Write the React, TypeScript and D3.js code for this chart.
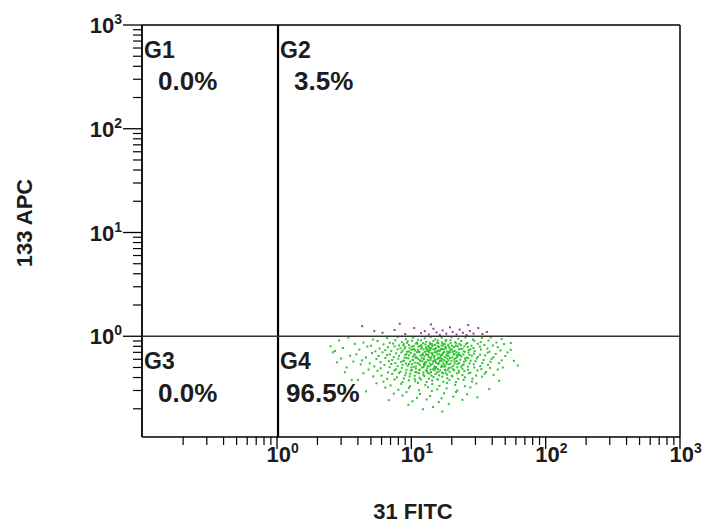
import React from "react";
import * as d3 from "d3";

// ---- data ----
const majorTicks = [1, 10, 100, 1000];
const majorExponents = ["0", "1", "2", "3"];
const minorMultipliers = [2, 3, 4, 5, 6, 7, 8, 9];
const decadeStarts = [0.1, 1, 10, 100];

const gateLabels = ["G1", "G2", "G3", "G4"];
const gatePercents = ["0.0%", "3.5%", "0.0%", "96.5%"];

const xTitle = "31 FITC";
const yTitle = "133 APC";

// G2 events (above the horizontal gate) – purple
const g2Points: [number, number][] = [
  [4.3, 1.25], [5.3, 1.12], [6.1, 1.08], [7.5, 1.15], [8.2, 1.32], [9.0, 1.05], [10.5, 1.2],
  [11.8, 1.07], [12.6, 1.12], [13.5, 1.04], [14.0, 1.3], [14.6, 1.18], [15.4, 1.09], [16.3, 1.03],
  [17.1, 1.14], [18.2, 1.06], [19.4, 1.22], [20.3, 1.1], [21.7, 1.04], [22.9, 1.16], [24.2, 1.08],
  [25.8, 1.03], [26.5, 1.28], [27.3, 1.12], [29.0, 1.06], [31.5, 1.2], [33.8, 1.05], [36.5, 1.1],
];

// G4 events – green
const g4Points: [number, number][] = [
  [3.4, .97], [5.2, .93], [6.6, .96], [7.9, .98], [9.1, .94], [10.3, .97], [11.2, .925], [12.6, .955], [13.9, .98], [15.1, .935],
  [16.8, .965], [18.2, .92], [19.9, .975], [22.4, .945], [25.3, .97], [28.8, .93], [33.5, .96], [39.0, .975], [47, .94],
  [2.9, .91], [4.4, .87], [5.6, .9], [6.9, .865], [7.6, .915], [8.5, .875], [9.4, .895], [10.1, .905], [11.0, .87], [11.8, .915],
  [12.9, .885], [13.7, .865], [14.6, .9], [15.8, .91], [16.9, .87], [18.0, .895], [19.5, .915], [21.2, .875], [23.5, .9],
  [26.1, .86], [29.4, .905], [32.8, .88], [37.5, .91], [43, .87],
  [3.8, .845], [5.0, .81], [6.2, .835], [7.3, .85], [8.1, .815], [8.8, .84], [9.6, .825], [10.4, .805], [11.1, .85], [11.9, .82],
  [12.7, .835], [13.4, .81], [14.2, .845], [15.0, .825], [15.9, .855], [16.8, .815], [17.7, .84], [18.8, .83], [20.1, .81],
  [21.6, .85], [23.4, .82], [25.5, .84], [28.0, .81], [31.2, .845], [35.0, .825], [40.5, .815], [49, .84],
  [3.1, .77], [4.7, .795], [5.8, .76], [6.7, .785], [7.5, .8], [8.3, .765], [9.0, .79], [9.7, .775], [10.5, .755], [11.3, .795],
  [12.0, .78], [12.8, .76], [13.5, .79], [14.3, .8], [15.2, .77], [16.1, .785], [17.0, .755], [18.1, .795], [19.3, .765],
  [20.7, .785], [22.2, .8], [24.0, .76], [26.3, .79], [29.0, .77], [32.4, .795], [36.8, .76], [44, .785],
  [4.1, .745], [5.4, .715], [6.4, .735], [7.1, .72], [7.9, .748], [8.6, .725], [9.3, .71], [10.0, .74], [10.7, .728], [11.5, .712],
  [12.3, .745], [13.1, .72], [13.8, .735], [14.6, .75], [15.5, .715], [16.4, .73], [17.4, .745], [18.5, .712], [19.7, .738],
  [21.0, .722], [22.6, .748], [24.5, .715], [26.8, .735], [29.6, .72], [33.0, .745], [38.2, .71], [46, .73], [55, .74],
  [2.6, .7], [3.9, .67], [5.1, .69], [6.1, .7], [6.9, .668], [7.7, .685], [8.4, .698], [9.2, .672], [9.9, .69], [10.6, .665],
  [11.4, .703], [12.2, .68], [12.9, .668], [13.6, .695], [14.4, .678], [15.3, .702], [16.2, .67], [17.2, .688], [18.3, .665],
  [19.5, .7], [20.9, .675], [22.5, .692], [24.4, .668], [26.6, .7], [29.3, .68], [32.5, .665], [37.0, .695], [42.5, .675],
  [3.5, .65], [4.6, .625], [5.7, .645], [6.6, .658], [7.4, .63], [8.1, .648], [8.9, .622], [9.6, .655], [10.3, .638], [11.0, .625],
  [11.7, .652], [12.5, .64], [13.3, .66], [14.1, .628], [14.9, .645], [15.8, .622], [16.7, .656], [17.7, .635], [18.9, .648],
  [20.2, .625], [21.8, .658], [23.6, .64], [25.7, .622], [28.2, .65], [31.3, .632], [35.4, .655], [40.8, .628], [50, .645],
  [3.0, .61], [4.3, .585], [5.5, .605], [6.4, .618], [7.2, .59], [8.0, .608], [8.7, .582], [9.5, .612], [10.2, .595], [10.9, .618],
  [11.6, .585], [12.4, .603], [13.2, .592], [13.9, .615], [14.7, .58], [15.6, .6], [16.5, .612], [17.5, .588], [18.6, .606],
  [19.9, .58], [21.4, .614], [23.1, .594], [25.1, .608], [27.6, .582], [30.6, .61], [34.5, .59], [39.5, .605], [47, .585],
  [3.7, .57], [4.9, .548], [5.9, .562], [6.8, .575], [7.6, .55], [8.4, .567], [9.1, .545], [9.8, .572], [10.6, .556], [11.3, .546],
  [12.1, .575], [12.9, .56], [13.7, .548], [14.5, .57], [15.4, .553], [16.3, .577], [17.3, .55], [18.4, .565], [19.6, .545],
  [21.0, .572], [22.7, .555], [24.7, .568], [27.1, .547], [30.0, .575], [33.8, .552], [38.8, .566], [45, .55],
  [4.2, .535], [5.3, .512], [6.3, .528], [7.1, .54], [7.9, .515], [8.6, .532], [9.4, .52], [10.1, .538], [10.8, .51], [11.6, .527],
  [12.4, .54], [13.2, .515], [14.0, .53], [14.9, .512], [15.8, .537], [16.8, .522], [17.9, .51], [19.1, .535], [20.5, .518],
  [22.1, .54], [24.0, .525], [26.3, .51], [29.1, .536], [32.6, .515], [37.2, .53], [62, .522],
  [3.3, .5], [4.8, .478], [5.9, .492], [6.9, .503], [7.7, .48], [8.5, .496], [9.2, .475], [10.0, .5], [10.8, .486], [11.5, .476],
  [12.3, .503], [13.1, .49], [13.9, .478], [14.8, .498], [15.7, .483], [16.7, .505], [17.8, .476], [19.0, .494], [20.4, .48],
  [22.0, .502], [24.0, .486], [26.4, .476], [29.4, .5], [33.2, .482], [38.5, .495], [44, .478],
  [5.6, .465], [6.7, .448], [7.5, .47], [8.3, .455], [9.1, .445], [9.9, .468], [10.7, .452], [11.5, .472], [12.3, .447], [13.1, .462],
  [14.0, .45], [14.9, .47], [15.9, .455], [16.9, .445], [18.0, .467], [19.3, .452], [20.8, .47], [22.6, .448], [24.8, .462],
  [27.5, .446], [31.0, .468], [36.0, .452],
  [4.4, .44], [6.0, .418], [7.2, .433], [8.1, .442], [9.0, .42], [9.8, .436], [10.6, .416], [11.4, .44], [12.3, .425], [13.2, .443],
  [14.1, .418], [15.1, .432], [16.1, .42], [17.2, .44], [18.5, .426], [20.0, .416], [21.8, .438], [24.0, .422], [26.8, .44],
  [30.3, .418], [35.2, .435], [41, .424],
  [5.2, .41], [6.6, .388], [7.8, .402], [8.8, .392], [9.7, .41], [10.6, .386], [11.5, .398], [12.5, .412], [13.5, .39], [14.6, .405],
  [15.7, .386], [17.0, .408], [18.5, .394], [20.2, .41], [22.3, .388], [25.0, .402], [28.5, .39], [33.5, .408],
  [4.0, .38], [6.2, .365], [7.5, .383], [8.6, .362], [9.6, .376], [10.7, .368], [11.8, .384], [13.0, .362], [14.3, .374],
  [15.7, .382], [17.3, .364], [19.2, .378], [21.5, .362], [24.5, .38], [28.3, .366], [45, .372],
  [5.5, .352], [7.0, .336], [8.4, .348], [9.8, .33], [11.2, .355], [12.7, .338], [14.3, .346], [16.2, .332], [18.4, .354],
  [21.2, .34], [25.0, .33], [30.5, .35],
  [6.4, .32], [8.0, .305], [9.6, .318], [11.4, .302], [13.3, .322], [15.6, .308], [18.3, .315], [22.0, .3], [27.5, .322], [38, .31],
  [4.6, .294], [7.4, .28], [9.2, .29], [11.6, .278], [14.2, .296], [17.5, .282], [21.5, .29], [26, .276],
  [8.6, .268], [11.0, .255], [13.8, .266], [16.8, .252], [20.5, .262], [31, .258],
  [6.8, .242], [10.2, .236], [13.0, .246], [16.0, .232], [24, .244],
  [9.5, .218], [14.5, .208], [19, .222],
  [12.2, .198], [17, .188],
  [2.5, .8], [2.8, .56], [3.2, .45], [2.7, .72], [3.6, .38], [52, .7], [58, .58], [48, .5], [55, .86],
  // dense core
  [9.3, .865], [10.8, .848], [12.2, .858], [13.8, .842], [15.5, .866], [17.3, .85], [19.6, .86], [22.8, .845],
  [8.7, .815], [10.1, .798], [11.6, .808], [12.9, .79], [14.4, .818], [15.7, .802], [17.2, .812], [19.0, .795], [21.4, .806], [24.8, .8],
  [8.9, .758], [10.3, .748], [11.8, .762], [13.2, .75], [14.0, .764], [15.0, .745], [16.6, .752], [18.0, .76], [20.0, .748], [23.3, .756], [27.5, .75],
  [9.6, .712], [11.0, .702], [12.6, .708], [13.4, .72], [14.9, .7], [16.0, .716], [17.6, .704], [19.1, .712], [21.6, .7], [25.0, .708],
  [9.0, .662], [10.5, .668], [11.9, .655], [13.0, .672], [14.4, .658], [15.6, .67], [17.0, .662], [18.6, .652], [20.6, .666], [23.0, .658], [27.0, .664],
  [9.2, .618], [10.7, .628], [12.0, .615], [13.5, .63], [14.8, .622], [16.2, .612], [18.0, .626], [19.4, .618], [22.0, .63], [26.5, .616],
  [8.8, .578], [10.3, .588], [11.7, .575], [13.4, .582], [15.0, .59], [16.8, .578], [18.9, .586], [21.8, .576], [25.5, .584],
  [9.6, .538], [11.1, .548], [12.7, .536], [14.4, .542], [16.1, .55], [18.3, .54], [21.0, .546], [24.5, .536],
  [10.4, .508], [12.0, .5], [13.6, .512], [15.3, .504], [17.3, .51], [19.8, .5], [23.5, .508],
  [10.1, .472], [12.8, .468], [14.5, .48], [16.4, .47], [18.7, .476], [22.5, .466],
  [11.0, .448], [13.6, .438], [15.5, .446], [18.0, .44],
  [11.3, .6], [12.6, .56], [13.9, .59], [15.2, .565], [16.9, .605], [18.1, .57], [12.1, .66], [14.2, .69], [16.5, .64],
  [18.8, .69], [11.2, .74], [13.7, .77], [15.9, .73], [17.9, .78], [20.4, .71], [12.4, .52], [15.1, .49], [17.6, .53],
  [20.9, .6], [22.4, .66],
];

// ---- layout ----
const W = 702;
const H = 523;
const plotLeft = 142;
const plotRight = 680;
const plotTop = 25;
const plotBottom = 437;
const FONT = "'Liberation Sans', Arial, Helvetica, sans-serif";
const TEXT = "#1c1c1c";

export default function App() {
  const x = d3.scaleLog().domain([0.1, 1000]).range([142.7, 680]);
  const y = d3.scaleLog().domain([0.1, 1000]).range([440, 25]);

  const minorVals: number[] = [];
  decadeStarts.forEach((d) => minorMultipliers.forEach((m) => minorVals.push(d * m)));
  const xMinor = minorVals.filter((v) => x(v) > plotLeft + 1 && x(v) < plotRight - 1);
  const yMinor = minorVals.filter((v) => y(v) < plotBottom - 1 && y(v) > plotTop + 1);

  const gx = x(1);
  const gy = y(1);

  const gatePos = [
    { lx: plotLeft + 2, ly: 58, px: plotLeft + 16, py: 90 },
    { lx: gx + 3, ly: 58, px: gx + 17, py: 90 },
    { lx: plotLeft + 2, ly: 369, px: plotLeft + 16, py: 402 },
    { lx: gx + 3, ly: 369, px: gx + 9, py: 402 },
  ];

  return (
    <svg
      width={W}
      height={H}
      style={{ position: "absolute", left: 0, top: 0, background: "#fff" }}
      fontFamily={FONT}
    >
      <rect x={0} y={0} width={W} height={H} fill="#fff" />

      {/* dots */}
      <g>
        {g4Points.map(([vx, vy], i) => (
          <rect key={"g" + i} x={x(vx) - 1} y={y(vy) - 1} width={2} height={2} fill="#2fc22f" />
        ))}
        {g2Points.map(([vx, vy], i) => (
          <rect key={"p" + i} x={x(vx) - 1} y={y(vy) - 1} width={2} height={2} fill="#9a3f8c" />
        ))}
      </g>

      {/* frame */}
      <line x1={plotLeft} x2={plotRight} y1={plotTop} y2={plotTop} stroke="#000" strokeWidth={1.5} />
      <line x1={plotRight} x2={plotRight} y1={plotTop} y2={plotBottom} stroke="#000" strokeWidth={1.5} />
      <line x1={plotLeft} x2={plotRight} y1={plotBottom} y2={plotBottom} stroke="#000" strokeWidth={1.5} />
      <line x1={plotLeft} x2={plotLeft} y1={plotTop} y2={plotBottom} stroke="#000" strokeWidth={1.8} />

      {/* gates */}
      <line x1={gx + 1} x2={gx + 1} y1={plotTop} y2={plotBottom} stroke="#000" strokeWidth={2.2} />
      <line x1={plotLeft} x2={plotRight} y1={gy} y2={gy} stroke="#333" strokeWidth={1.4} />

      {/* y ticks */}
      {yMinor.map((v, i) => (
        <line key={"ym" + i} x1={plotLeft - 9} x2={plotLeft} y1={y(v)} y2={y(v)} stroke="#000" strokeWidth={1.2} />
      ))}
      {majorTicks.map((v, i) => (
        <g key={"yM" + i}>
          <line x1={plotLeft - 19} x2={plotLeft} y1={y(v)} y2={y(v)} stroke="#000" strokeWidth={1.3} />
          <text x={plotLeft - 20} y={y(v) + 8} textAnchor="end" fontSize={22} fontWeight="bold" fill={TEXT}>
            10
            <tspan fontSize={14} dy={-9}>{majorExponents[i]}</tspan>
          </text>
        </g>
      ))}

      {/* x ticks */}
      {xMinor.map((v, i) => (
        <line key={"xm" + i} x1={x(v)} x2={x(v)} y1={plotBottom} y2={plotBottom + 8} stroke="#000" strokeWidth={1.2} />
      ))}
      {majorTicks.map((v, i) => (
        <g key={"xM" + i}>
          <line x1={x(v)} x2={x(v)} y1={plotBottom} y2={plotBottom + 12} stroke="#000" strokeWidth={1.3} />
          <text x={x(v) - 10.5} y={462} textAnchor="start" fontSize={22} fontWeight="bold" fill={TEXT}>
            10
            <tspan fontSize={14} dy={-9}>{majorExponents[i]}</tspan>
          </text>
        </g>
      ))}

      {/* gate labels */}
      {gateLabels.map((g, i) => (
        <g key={"gl" + i}>
          <text x={gatePos[i].lx} y={gatePos[i].ly} fontSize={23} fontWeight="bold" fill={TEXT}>{g}</text>
          <text x={gatePos[i].px} y={gatePos[i].py} fontSize={26} fontWeight="bold" fill={TEXT}>{gatePercents[i]}</text>
        </g>
      ))}

      {/* axis titles */}
      <text x={413} y={519} textAnchor="middle" fontSize={22} fontWeight="bold" fill={TEXT}>{xTitle}</text>
      <text transform={`translate(32,223) rotate(-90)`} textAnchor="middle" fontSize={22} fontWeight="bold" fill={TEXT}>{yTitle}</text>
    </svg>
  );
}
